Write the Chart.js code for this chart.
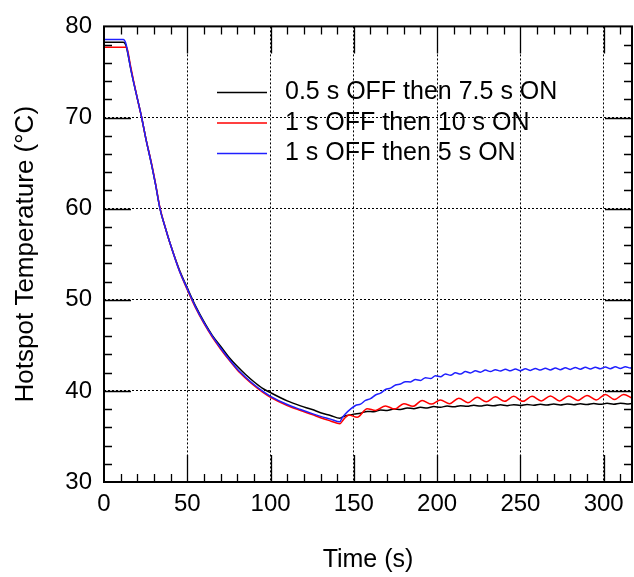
<!DOCTYPE html>
<html><head><meta charset="utf-8">
<script src="https://cdn.jsdelivr.net/npm/chart.js@4.4.0/dist/chart.umd.min.js"></script>
<style>html,body{margin:0;padding:0;background:#fff}</style>
</head><body>
<canvas id="c" width="634" height="577"></canvas>
<script>
const seriesLabels = ['0.5 s OFF then 7.5 s ON', '1 s OFF then 10 s ON', '1 s OFF then 5 s ON'];
const seriesColors = ['#000000', '#ff0000', '#2020ff'];
const xTicks = [0, 50, 100, 150, 200, 250, 300];
const yTicks = [30, 40, 50, 60, 70, 80];

// cooling phase (shared time points)
const coolTime  = [0, 11.6, 13, 14, 16, 18, 20, 22.6, 25, 28.6, 31, 33.6, 37, 40, 45, 50, 55, 60, 65, 70, 75, 80, 85, 90, 95, 100, 110, 118, 125, 130, 136, 141.6];
const coolBlack = [78.27, 78.27, 78.0, 77.3, 75.4, 73.7, 72.1, 70.0, 67.8, 64.8, 62.6, 60.0, 57.8, 56.0, 53.4, 51.3, 49.3, 47.6, 46.1, 44.9, 43.7, 42.7, 41.8, 41.0, 40.3, 39.8, 38.9, 38.35, 37.95, 37.6, 37.3, 37.0];
const coolRed   = [77.7, 77.7, 77.7, 77.5, 75.6, 73.8, 72.1, 70.0, 67.8, 64.9, 62.7, 60.1, 57.8, 56.0, 53.3, 51.1, 49.1, 47.4, 45.9, 44.6, 43.4, 42.3, 41.4, 40.6, 39.9, 39.3, 38.4, 37.85, 37.4, 37.05, 36.7, 36.4];
const coolBlue  = [78.56, 78.56, 78.2, 77.4, 75.4, 73.7, 72.1, 70.0, 67.8, 64.8, 62.6, 60.0, 57.8, 56.0, 53.3, 51.2, 49.2, 47.5, 46.0, 44.7, 43.5, 42.4, 41.5, 40.7, 40.0, 39.4, 38.5, 37.95, 37.5, 37.2, 36.9, 36.6];

// pulsed phase
const blackTime = [144, 146, 150, 154, 158, 162, 166, 170, 174, 178, 182, 186, 190, 194, 198, 202, 206, 210, 214, 218, 222, 226, 230, 234, 238, 242, 246, 250, 254, 258, 262, 266, 270, 274, 278, 282, 286, 290, 294, 298, 302, 306, 310, 314, 317];
const blackTemp = [37.2, 37.3, 37.45, 37.55, 37.75, 37.7, 37.9, 37.85, 38.02, 37.95, 38.12, 38.05, 38.2, 38.12, 38.28, 38.2, 38.34, 38.25, 38.38, 38.3, 38.42, 38.33, 38.45, 38.36, 38.47, 38.38, 38.49, 38.4, 38.51, 38.42, 38.53, 38.44, 38.55, 38.46, 38.57, 38.48, 38.59, 38.5, 38.61, 38.52, 38.63, 38.54, 38.65, 38.56, 38.62];

const redTime = [144, 147, 152, 158, 163, 169, 174.5, 180, 185.5, 191, 196.5, 202, 207.5, 213, 218.5, 224, 229.5, 235, 240.5, 246, 251.5, 257, 262.5, 268, 273.5, 279, 284.5, 290, 295.5, 301, 306.5, 312, 317];
const redTemp = [36.9, 37.35, 37.1, 38.05, 37.85, 38.35, 38.0, 38.6, 38.3, 38.95, 38.55, 39.0, 38.6, 39.2, 38.7, 39.3, 38.8, 39.35, 38.85, 39.4, 38.85, 39.4, 38.9, 39.45, 38.9, 39.45, 38.95, 39.5, 39.0, 39.6, 39.05, 39.6, 39.2];

const blueTime = [143, 145, 148, 151, 154, 157, 160, 163, 166, 169, 172, 175, 178, 181, 184, 187, 190, 193, 196, 199, 202, 205, 208, 211, 214, 217, 220, 223, 226, 229, 232, 235, 238, 241, 244, 247, 250, 253, 256, 259, 262, 265, 268, 271, 274, 277, 280, 283, 286, 289, 292, 295, 298, 301, 304, 307, 310, 313, 316, 317];
const blueTemp = [37.05, 37.5, 38.0, 38.4, 38.55, 38.95, 39.15, 39.55, 39.75, 40.15, 40.3, 40.65, 40.75, 41.0, 40.98, 41.25, 41.15, 41.45, 41.35, 41.65, 41.55, 41.85, 41.72, 41.98, 41.85, 42.12, 41.97, 42.2, 42.05, 42.28, 42.12, 42.33, 42.17, 42.37, 42.2, 42.4, 42.22, 42.42, 42.25, 42.45, 42.28, 42.48, 42.3, 42.5, 42.33, 42.53, 42.36, 42.56, 42.38, 42.58, 42.4, 42.6, 42.42, 42.62, 42.44, 42.64, 42.46, 42.66, 42.5, 42.6];

function pts(t1, v1, t2, v2) {
  const out = [];
  t1.forEach((t, i) => out.push({x: t, y: v1[i]}));
  t2.forEach((t, i) => out.push({x: t, y: v2[i]}));
  return out;
}

const FONT = 'Arial, "Liberation Sans", sans-serif';

const framePlugin = {
  id: 'frame',
  afterDatasetsDraw(chart) {
    const ctx = chart.ctx, a = chart.chartArea;
    const xs = chart.scales.x, ys = chart.scales.y;
    ctx.save();
    ctx.strokeStyle = '#000';
    ctx.lineWidth = 1.3;
    ctx.beginPath();
    for (let v = 10; v < xs.max; v += 10) {
      const px = Math.round(xs.getPixelForValue(v)) + 0.5;
      const len = (v % 50 === 0) ? 27 : 8;
      ctx.moveTo(px, a.bottom); ctx.lineTo(px, a.bottom - len);
      ctx.moveTo(px, a.top); ctx.lineTo(px, a.top + len);
    }
    for (let v = 32; v < ys.max; v += 2) {
      const py = Math.round(ys.getPixelForValue(v)) + 0.5;
      const len = (v % 10 === 0) ? 27 : 8;
      ctx.moveTo(a.left, py); ctx.lineTo(a.left + len, py);
      ctx.moveTo(a.right, py); ctx.lineTo(a.right - len, py);
    }
    ctx.stroke();
    ctx.lineWidth = 2;
    ctx.strokeRect(a.left, a.top, a.right - a.left, a.bottom - a.top);

    // legend
    ctx.font = '25px ' + FONT;
    ctx.textBaseline = 'middle';
    ctx.textAlign = 'left';
    const rows = [66, 96.5, 127];
    chart.data.datasets.forEach((ds, i) => {
      const y = a.top + rows[i];
      ctx.strokeStyle = ds.borderColor;
      ctx.lineWidth = 1.5;
      ctx.beginPath();
      ctx.moveTo(a.left + 113, y); ctx.lineTo(a.left + 163, y);
      ctx.stroke();
      ctx.fillStyle = '#000';
      ctx.fillText(ds.label, a.left + 181, y);
    });
    ctx.restore();
  }
};

new Chart(document.getElementById('c'), {
  type: 'line',
  data: {
    datasets: [
      {label: seriesLabels[0], data: pts(coolTime, coolBlack, blackTime, blackTemp), borderColor: seriesColors[0], order: 3},
      {label: seriesLabels[1], data: pts(coolTime, coolRed, redTime, redTemp), borderColor: seriesColors[1], order: 2},
      {label: seriesLabels[2], data: pts(coolTime, coolBlue, blueTime, blueTemp), borderColor: seriesColors[2], order: 1}
    ]
  },
  options: {
    responsive: false,
    animation: false,
    devicePixelRatio: 1,
    parsing: true,
    layout: {padding: {top: 20, right: 2, left: 0, bottom: 0}},
    elements: {
      point: {radius: 0},
      line: {borderWidth: 1.5, cubicInterpolationMode: 'monotone', fill: false}
    },
    plugins: {legend: {display: false}, tooltip: {enabled: false}},
    scales: {
      x: {
        type: 'linear', min: 0, max: 317,
        afterFit(s) { s.height = 95; },
        afterBuildTicks(s) { s.ticks = xTicks.map(v => ({value: v})); },
        ticks: {includeBounds: false, padding: 8, color: '#000', font: {family: FONT, size: 24}, maxRotation: 0},
        grid: {color: '#000', lineWidth: 1, drawTicks: false},
        border: {display: false, dash: [2, 2]},
        title: {display: true, text: 'Time (s)', color: '#000', font: {family: FONT, size: 25}, padding: {top: 2, bottom: 2}}
      },
      y: {
        type: 'linear', min: 30, max: 80,
        afterFit(s) { s.width = 104; },
        afterBuildTicks(s) { s.ticks = yTicks.map(v => ({value: v})); },
        ticks: {padding: 12, color: '#000', font: {family: FONT, size: 24}},
        grid: {color: '#000', lineWidth: 1, drawTicks: false},
        border: {display: false, dash: [2, 2]},
        title: {display: true, text: 'Hotspot Temperature (°C)', color: '#000', font: {family: FONT, size: 26}, padding: {top: 10, bottom: 10}}
      }
    }
  },
  plugins: [framePlugin]
});
</script>
</body></html>
